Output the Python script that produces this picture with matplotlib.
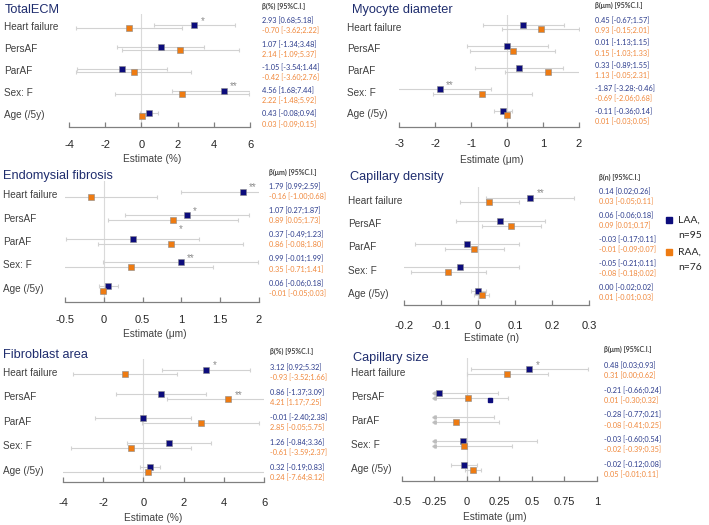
import matplotlib.pyplot as plt
from matplotlib.lines import Line2D

W, H = 709, 525
NAVY = "#0c0c7c"
ORANGE = "#ee7b12"
NAVY_TXT = "#2b3b8c"
ORANGE_TXT = "#f0883c"
BAR = "#d2d2d2"
SANS = ["Liberation Sans", "DejaVu Sans"]
CAL = ["Lato", "DejaVu Sans"]

rows = ["Heart failure", "PersAF", "ParAF", "Sex: F", "Age (/5y)"]

# TotalECM
ecm_laa = [2.93, 1.07, -1.05, 4.56, 0.43]
ecm_laa_lo = [0.68, -1.34, -3.54, 1.68, -0.08]
ecm_laa_hi = [5.18, 3.48, 1.44, 7.44, 0.94]
ecm_raa = [-0.70, 2.14, -0.42, 2.22, 0.03]
ecm_raa_lo = [-3.62, -1.09, -3.60, -1.48, -0.09]
ecm_raa_hi = [2.22, 5.37, 2.76, 5.92, 0.15]
ecm_stars = [(0, "laa", "*", "ur"), (3, "laa", "**", "ur")]

# Myocyte diameter
myo_laa = [0.45, 0.01, 0.33, -1.87, -0.11]
myo_laa_lo = [-0.67, -1.13, -0.89, -3.28, -0.36]
myo_laa_hi = [1.57, 1.15, 1.55, -0.46, 0.14]
myo_raa = [0.93, 0.15, 1.13, -0.69, 0.01]
myo_raa_lo = [-0.15, -1.03, -0.05, -2.06, -0.03]
myo_raa_hi = [2.01, 1.33, 2.31, 0.68, 0.05]
myo_stars = [(3, "laa", "**", "ur")]

# Endomysial fibrosis
endo_laa = [1.79, 1.07, 0.37, 0.99, 0.06]
endo_laa_lo = [0.99, 0.27, -0.49, -0.01, -0.06]
endo_laa_hi = [2.59, 1.87, 1.23, 1.99, 0.18]
endo_raa = [-0.16, 0.89, 0.86, 0.35, -0.01]
endo_raa_lo = [-1.00, 0.05, -0.08, -0.71, -0.05]
endo_raa_hi = [0.68, 1.73, 1.80, 1.41, 0.03]
endo_stars = [(0, "laa", "**", "ur"), (1, "laa", "*", "ur"),
              (1, "raa", "*", "lr"), (3, "laa", "**", "ur")]

# Capillary density
capd_laa = [0.14, 0.06, -0.03, -0.05, 0.00]
capd_laa_lo = [0.02, -0.06, -0.17, -0.21, -0.02]
capd_laa_hi = [0.26, 0.18, 0.11, 0.11, 0.02]
capd_raa = [0.03, 0.09, -0.01, -0.08, 0.01]
capd_raa_lo = [-0.05, 0.01, -0.09, -0.18, -0.01]
capd_raa_hi = [0.11, 0.17, 0.07, 0.02, 0.03]
capd_stars = [(0, "laa", "**", "ur")]

# Fibroblast area
fib_laa = [3.12, 0.86, -0.01, 1.26, 0.32]
fib_laa_lo = [0.92, -1.37, -2.40, -0.84, -0.19]
fib_laa_hi = [5.32, 3.09, 2.38, 3.36, 0.83]
fib_raa = [-0.93, 4.21, 2.85, -0.61, 0.24]
fib_raa_lo = [-3.52, 1.17, -0.05, -3.59, -7.64]
fib_raa_hi = [1.66, 7.25, 5.75, 2.37, 8.12]
fib_stars = [(0, "laa", "*", "ur"), (1, "raa", "**", "ur")]

# Capillary size
caps_laa = [0.48, -0.21, -0.28, -0.03, -0.02]
caps_laa_lo = [0.03, -0.66, -0.77, -0.60, -0.12]
caps_laa_hi = [0.93, 0.24, 0.21, 0.54, 0.08]
caps_raa = [0.31, 0.01, -0.08, -0.02, 0.05]
caps_raa_lo = [0.00, -0.30, -0.41, -0.39, -0.01]
caps_raa_hi = [0.62, 0.32, 0.25, 0.35, 0.11]
caps_stars = [(0, "laa", "*", "ur")]
caps_stray = [(1, 0.18)]  # stray LAA square seen in the original

panels = [
    dict(title="TotalECM", xlabel="Estimate (%)", head="β(%) [95%C.I.]",
         laa=(ecm_laa, ecm_laa_lo, ecm_laa_hi), raa=(ecm_raa, ecm_raa_lo, ecm_raa_hi),
         stars=ecm_stars, xlim=(-4, 6), ticks=[-4, -2, 0, 2, 4, 6],
         ticklabels=["-4", "-2", "0", "2", "4", "6"], clip=None,
         x0=69, x1=250, c0=26.5, step=21.95, off=1.7, axis_y=127, tick_y=144,
         label_x=4, title_x=5, title_b=13, ann_x=262.5, head_y=7, ann0=20.7,
         ann_step=23.3, xlab=(152.5, 159)),
    dict(title="Myocyte diameter", xlabel="Estimate (μm)", head="β(μm) [95%C.I.]",
         laa=(myo_laa, myo_laa_lo, myo_laa_hi), raa=(myo_raa, myo_raa_lo, myo_raa_hi),
         stars=myo_stars, xlim=(-3, 2), ticks=[-3, -2, -1, 0, 1, 2],
         ticklabels=["-3", "-2", "-1", "0", "1", "2"], clip=None,
         x0=399.3, x1=579, c0=27, step=21.5, off=2.1, axis_y=127, tick_y=143,
         label_x=347, title_x=352, title_b=13, ann_x=595, head_y=5.5, ann0=20,
         ann_step=22.75, xlab=(491.7, 160)),
    dict(title="Endomysial fibrosis", xlabel="Estimate (μm)", head="β(μm) [95%C.I.]",
         laa=(endo_laa, endo_laa_lo, endo_laa_hi), raa=(endo_raa, endo_raa_lo, endo_raa_hi),
         stars=endo_stars, xlim=(-0.5, 2), ticks=[-0.5, 0, 0.5, 1, 1.5, 2],
         ticklabels=["-0.5", "0", "0.5", "1", "1.5", "2"], clip=None,
         x0=65, x1=259, c0=194, step=23.5, off=2.5, axis_y=301.7, tick_y=319,
         label_x=3, title_x=3, title_b=179.3, ann_x=269, head_y=173, ann0=186,
         ann_step=24.25, xlab=(154.7, 334)),
    dict(title="Capillary density", xlabel="Estimate (n)", head="β(n) [95%C.I.]",
         laa=(capd_laa, capd_laa_lo, capd_laa_hi), raa=(capd_raa, capd_raa_lo, capd_raa_hi),
         stars=capd_stars, xlim=(-0.2, 0.3), ticks=[-0.2, -0.1, 0, 0.1, 0.2, 0.3],
         ticklabels=["-0.2", "-0.1", "0", "0.1", "0.2", "0.3"], clip=None,
         x0=404, x1=589.3, c0=200, step=23.25, off=2.3, axis_y=305, tick_y=325,
         label_x=348, title_x=350, title_b=180, ann_x=599, head_y=178, ann0=191.7,
         ann_step=24, xlab=(491.7, 338)),
    dict(title="Fibroblast area", xlabel="Estimate (%)", head="β(%) [95%C.I.]",
         laa=(fib_laa, fib_laa_lo, fib_laa_hi), raa=(fib_raa, fib_raa_lo, fib_raa_hi),
         stars=fib_stars, xlim=(-4, 6), ticks=[-4, -2, 0, 2, 4, 6],
         ticklabels=["-4", "-2", "0", "2", "4", "6"], clip=None,
         x0=63, x1=264, c0=372, step=24.4, off=2.4, axis_y=481.7, tick_y=501.7,
         label_x=3, title_x=3, title_b=357.7, ann_x=270, head_y=352, ann0=367,
         ann_step=25.1, xlab=(153, 518)),
    dict(title="Capillary size", xlabel="Estimate (μm)", head="β(μm) [95%C.I.]",
         laa=(caps_laa, caps_laa_lo, caps_laa_hi), raa=(caps_raa, caps_raa_lo, caps_raa_hi),
         stars=caps_stars, xlim=(-0.5, 1), ticks=[-0.5, -0.25, 0, 0.25, 0.5, 0.75, 1],
         ticklabels=["-0.5", "-0.25", "0", "0.25", "0.5", "0.75", "1"], clip=-0.25,
         x0=401.7, x1=597, c0=371.5, step=24, off=2.3, axis_y=481, tick_y=501,
         label_x=351, title_x=352.7, title_b=360.7, ann_x=603.5, head_y=350, ann0=365.7,
         ann_step=24.6, xlab=(495, 516.7)),
]


def fx(px):
    return px / W


def fy(py):
    return 1 - py / H


fig = plt.figure(figsize=(W / 100, H / 100), dpi=100)

for p in panels:
    top = p["c0"] - 0.55 * p["step"]
    ax = fig.add_axes([fx(p["x0"]), fy(p["axis_y"]),
                       (p["x1"] - p["x0"]) / W, (p["axis_y"] - top) / H])
    ax.set_xlim(*p["xlim"])
    ax.set_ylim((p["axis_y"] - p["c0"]) / p["step"], -0.55)
    ax.patch.set_alpha(0)
    for s in ["top", "right", "left"]:
        ax.spines[s].set_visible(False)
    ax.spines["bottom"].set_color("#808080")
    ax.spines["bottom"].set_linewidth(0.9)
    ax.set_yticks([])
    ax.set_xticks(p["ticks"])
    ax.set_xticklabels(p["ticklabels"], family=SANS)
    ax.tick_params(axis="x", direction="in", length=3.5, width=0.9, color="#808080",
                   labelsize=8, labelcolor="#262626",
                   pad=(p["tick_y"] - p["axis_y"] - 4) / 1.389)
    ax.axvline(0, color="#dadada", lw=0.8, zorder=0)

    off = p["off"] / p["step"]
    clip = p["clip"]
    for key, color, dy in [("laa", NAVY, -off), ("raa", ORANGE, off)]:
        est, lo, hi = p[key]
        ys = [i + dy for i in range(len(rows))]
        lo_d = [l if clip is None else max(l, clip) for l in lo]
        ax.hlines(ys, lo_d, hi, color=BAR, lw=0.8, zorder=1)
        ax.plot(lo_d, ys, ls="none", marker="|", ms=2.5, color=BAR, mew=0.8, zorder=1)
        ax.plot(hi, ys, ls="none", marker="|", ms=2.5, color=BAR, mew=0.8, zorder=1)
        if clip is not None:
            arrows = [(c, y) for l, c, y in zip(lo, lo_d, ys) if l < clip]
            ax.plot([a[0] for a in arrows], [a[1] for a in arrows], ls="none",
                    marker="<", ms=2.5, color="#bdbdbd", zorder=1)
        shown = [(e, y) for e, y in zip(est, ys) if clip is None or e >= clip]
        ax.plot([s[0] for s in shown], [s[1] for s in shown], ls="none", marker="s",
                ms=4.8, mfc=color, mec="#8a8a8a", mew=0.4, zorder=3)

    if p["title"] == "Capillary size":
        ax.plot([s[1] for s in caps_stray], [s[0] + 2 * off for s in caps_stray],
                ls="none", marker="s", ms=3.3, mfc=NAVY, mec=NAVY, zorder=3)

    for r, key, txt, pos in p["stars"]:
        e = p[key][0][r]
        yy = r - off if key == "laa" else r + off
        dy = 3 if pos == "ur" else -6.8
        ax.annotate(txt, (e, yy), xytext=(4.6, dy), textcoords="offset points",
                    ha="left", va="center", color="#8c8c8c", fontsize=7,
                    family=SANS, annotation_clip=False)

    # texts placed in figure pixels
    fig.text(fx(p["title_x"]), fy(p["title_b"]), p["title"], fontsize=9.2,
             color="#1f2d6e", va="baseline", family=SANS)
    for i, lab in enumerate(rows):
        fig.text(fx(p["label_x"]), fy(p["c0"] + i * p["step"] + 4), lab,
                 fontsize=7.2, color="#404040", va="baseline", family=SANS)
    fig.text(fx(p["xlab"][0]), fy(p["xlab"][1]), p["xlabel"], fontsize=7.3,
             color="#404040", ha="center", va="center", family=SANS)
    fig.text(fx(p["ann_x"]), fy(p["head_y"] + 2), p["head"], fontsize=5,
             color="#404040", va="baseline", weight="bold", family=CAL)
    for key, color, dy in [("laa", NAVY_TXT, 0), ("raa", ORANGE_TXT, 10.2)]:
        est, lo, hi = p[key]
        for i in range(len(rows)):
            s = "{:.2f} [{:.2f};{:.2f}]".format(est[i], lo[i], hi[i])
            fig.text(fx(p["ann_x"]), fy(p["ann0"] + i * p["ann_step"] + dy + 2.5), s,
                     fontsize=5.3, color=color, va="baseline", family=CAL)

# legend on the right of the middle row
for lab1, lab2, color, y in [("LAA,", "n=95", NAVY, 220), ("RAA,", "n=76", ORANGE, 251.7)]:
    fig.add_artist(Line2D([fx(669.3)], [fy(y)], marker="s", ms=5, mfc=color,
                          mec=color, transform=fig.transFigure))
    fig.text(fx(678.3), fy(y), lab1, fontsize=7.5, color="#262626", va="center", family=CAL)
    fig.text(fx(678.3), fy(y + 15.5), lab2, fontsize=7.5, color="#262626", va="center",
             family=CAL)

fig.savefig("out.png", dpi=100)
